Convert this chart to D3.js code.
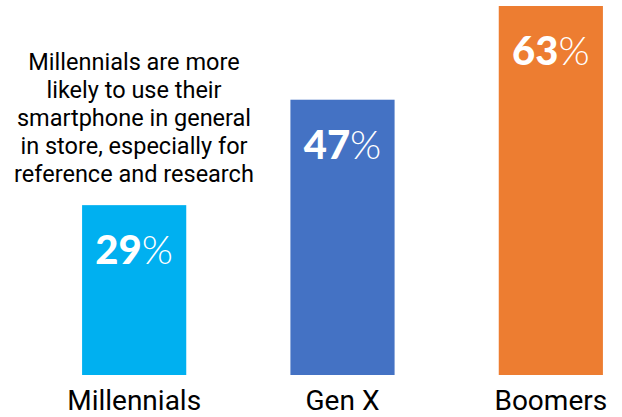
<!DOCTYPE html>
<html><head><meta charset="utf-8">
<script src="https://cdn.jsdelivr.net/npm/d3@7"></script>
<style>body{margin:0;background:#fff}svg{display:block}</style>
</head><body>
<script>
const categories = ["Millennials", "Gen X", "Boomers"];
const values = [29, 47, 63];
const colors = ["#00B0F0", "#4472C4", "#ED7D31"];
const note = ["Millennials are more", "likely to use their", "smartphone in general", "in store, especially for", "reference and research"];

const W = 622, H = 417;
const svg = d3.select("body").append("svg").attr("width", W).attr("height", H);
const x = d3.scaleBand().domain(categories).range([30, 655]).paddingInner(0.5).paddingOuter(0.25);
const y = d3.scaleLinear().domain([0, 63]).range([375, 6]);

svg.selectAll("rect.bar").data(values).join("rect").attr("class", "bar")
  .attr("x", (d, i) => x(categories[i])).attr("width", x.bandwidth())
  .attr("y", d => y(d)).attr("height", d => y(0) - y(d))
  .attr("fill", (d, i) => colors[i]);

const lbl = svg.selectAll("text.val").data(values).join("text").attr("class", "val")
  .attr("x", (d, i) => x(categories[i]) + x.bandwidth() / 2)
  .attr("y", d => y(d) + 59)
  .attr("text-anchor", "middle").attr("fill", "#fff")
  .style("font-family", "Lato, sans-serif").style("font-size", "40px");
lbl.append("tspan").style("font-weight", 900).text(d => d);
lbl.append("tspan").style("font-weight", 300).text("%");

svg.selectAll("text.cat").data(categories).join("text").attr("class", "cat")
  .attr("x", d => x(d) + x.bandwidth() / 2).attr("y", 410)
  .attr("text-anchor", "middle").attr("fill", "#000")
  .style("font-family", "Roboto, sans-serif").style("font-size", "28px")
  .text(d => d);

svg.append("text").attr("text-anchor", "middle")
  .style("font-family", "Roboto, sans-serif").style("font-size", "23.5px").attr("fill", "#000")
  .selectAll("tspan").data(note).join("tspan")
  .attr("x", 134).attr("y", (d, i) => 70 + i * 28).text(d => d);
</script>
</body></html>
